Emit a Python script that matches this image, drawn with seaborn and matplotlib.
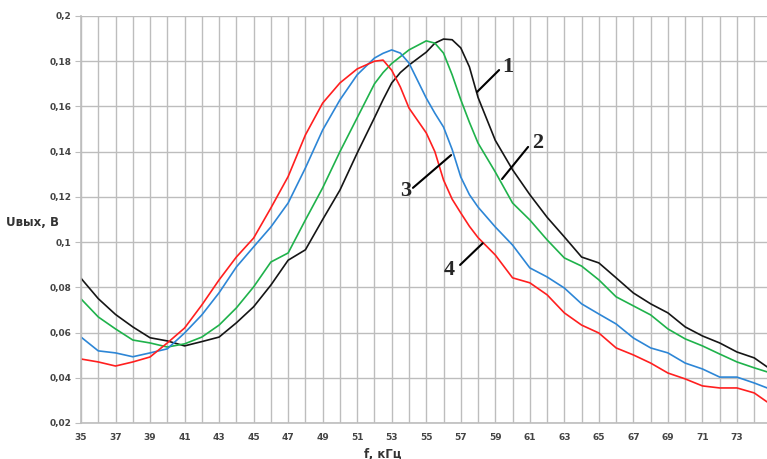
import matplotlib
matplotlib.use("Agg")
import matplotlib.pyplot as plt
import seaborn as sns
from matplotlib.ticker import MultipleLocator, FuncFormatter

# frequency, kHz
freq = [35, 36, 37, 38, 39, 40, 41, 42, 43, 44, 45, 46, 47, 48, 49, 50, 51, 52,
        52.5, 53, 53.5, 54, 55, 55.5, 56, 56.5, 57, 57.5, 58, 59, 60, 61, 62, 63,
        64, 65, 66, 67, 68, 69, 70, 71, 72, 73, 74, 74.75]

# output voltage, V
curve1 = [.084, .075, .068, .0625, .0577, .0563, .0541, .056, .058, .0643, .0714, .081,
          .092, .0966, .110, .123, .1394, .155, .163, .1704, .175, .1783, .184, .188,
          .1898, .1895, .1859, .1775, .164, .145, .132, .121, .111, .1023, .0934, .0908,
          .0842, .0775, .0727, .0687, .0625, .0585, .0554, .0514, .0488, .0448]
curve2 = [.0749, .0669, .0616, .0567, .0554, .0536, .055, .058, .0633, .0709, .0802, .0912,
          .0952, .1098, .124, .140, .155, .170, .175, .179, .182, .185, .189, .188,
          .1836, .174, .163, .153, .1438, .131, .1173, .1098, .101, .093, .0894, .0833,
          .0758, .0718, .0678, .0616, .0572, .0541, .0505, .047, .0444, .0426]
curve3 = [.058, .0519, .051, .0493, .051, .0528, .0598, .0678, .0776, .089, .0979, .1067,
          .1173, .1328, .1496, .1629, .174, .1814, .1835, .185, .1836, .1792, .1637, .157,
          .1509, .141, .1288, .121, .1155, .1067, .0987, .0886, .0846, .0797, .0727, .0682,
          .0638, .0576, .0532, .051, .0465, .0439, .0403, .0403, .0377, .0355]
curve4 = [.0483, .047, .0452, .047, .0492, .0554, .062, .0722, .0833, .0934, .1018, .1151,
          .129, .1474, .1615, .1704, .1766, .180, .1805, .176, .1686, .1593, .1483, .140,
          .1275, .119, .1129, .107, .102, .0943, .0842, .082, .0767, .0687, .0633, .0598,
          .0532, .0501, .0465, .0421, .0395, .0364, .0355, .0355, .0333, .0293]

curves = [curve1, curve2, curve3, curve4]
colors = ["#151515", "#1fb24b", "#2d86d6", "#ff1f1f"]
labels = ["1", "2", "3", "4"]
# leader lines: (point on curve, end near the number, number position)
leaders = [((57.94, 0.1664), (59.22, 0.1761), (59.75, 0.1775)),
           ((59.39, 0.1279), (60.90, 0.1421), (61.45, 0.1440)),
           ((56.44, 0.1385), (54.23, 0.1240), (53.80, 0.1225)),
           ((58.27, 0.0995), (56.96, 0.0899), (56.35, 0.0875))]

sns.set_style("white")
fig = plt.figure(figsize=(7.67, 4.59), dpi=100)
ax = fig.add_axes([81 / 767, 1 - 423 / 459, 1 - 81 / 767, (423 - 16) / 459])

for y, c in zip(curves, colors):
    sns.lineplot(x=freq, y=y, color=c, linewidth=1.2, ax=ax, sort=False,
                 solid_joinstyle="round")

ax.set_xlim(35, 74.74)
ax.set_ylim(0.02, 0.2)
ax.xaxis.set_minor_locator(MultipleLocator(1))
ax.yaxis.set_major_locator(MultipleLocator(0.02))
ax.set_xticks(range(35, 75, 2))
ax.yaxis.set_major_formatter(FuncFormatter(lambda v, p: ("%.2f" % v).rstrip("0").replace(".", ",")))
ax.grid(True, which="both", color="#bdbdbd", linewidth=1.0)
for s in ["top", "right"]:
    ax.spines[s].set_visible(False)
for s in ["left", "bottom"]:
    ax.spines[s].set_color("#bdbdbd")
    ax.spines[s].set_linewidth(1.2)
ax.tick_params(axis="y", which="major", left=True, length=4, color="#bdbdbd", pad=3,
               labelsize=6.5, labelcolor="#444444")
ax.tick_params(axis="x", which="both", bottom=False, pad=4, labelsize=6.5, labelcolor="#444444")
for t in ax.get_xticklabels() + ax.get_yticklabels():
    t.set_fontweight("bold")

for (p0, p1, pt), lab in zip(leaders, labels):
    ax.plot([p0[0], p1[0]], [p0[1], p1[1]], color="black", linewidth=1.5)
    ax.text(pt[0], pt[1], lab, family="Liberation Serif", fontweight="bold", fontsize=16,
            ha="center", va="center")

fig.text(32 / 767, 1 - 222 / 459, "Uвых, B", fontsize=8.5, fontweight="bold",
         color="#333333", ha="center", va="center")
fig.text(383 / 767, 1 - 454 / 459, "f, кГц", fontsize=8.5, fontweight="bold",
         color="#333333", ha="center", va="center")

fig.savefig("out.png", dpi=100)
